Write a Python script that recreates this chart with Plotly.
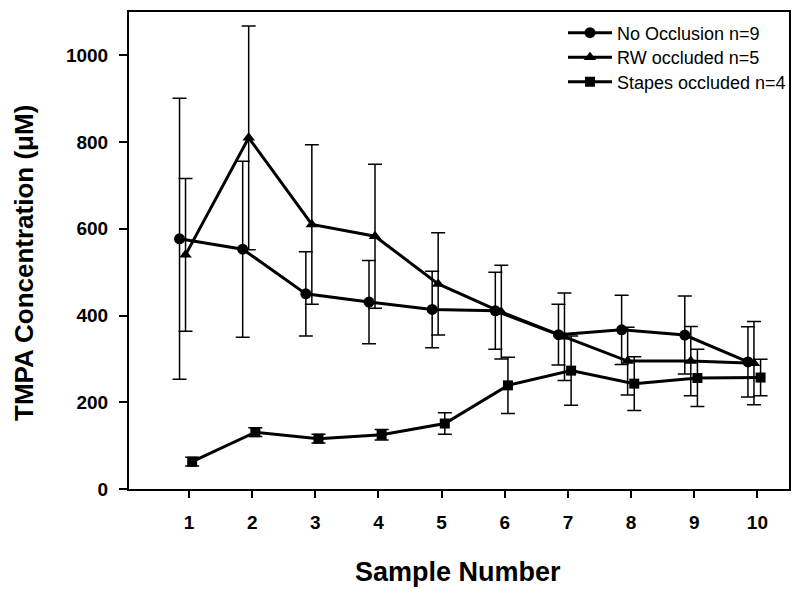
import plotly.graph_objects as go

samples = [1, 2, 3, 4, 5, 6, 7, 8, 9, 10]

no_occ_mean = [577, 553, 450, 431, 414, 411, 356, 367, 355, 293]
no_occ_err = [324, 203, 97, 96, 88, 89, 70, 80, 90, 81]

rw_mean = [540, 810, 610, 583, 473, 408, 351, 295, 295, 290]
rw_err = [176, 258, 184, 166, 118, 108, 101, 78, 80, 96]

stapes_mean = [63, 131, 116, 125, 151, 239, 273, 243, 256, 257]
stapes_err = [10, 10, 10, 12, 25, 65, 80, 62, 66, 42]

series_names = ["No Occlusion n=9", "RW occluded n=5", "Stapes occluded n=4"]
x_ticks = [1, 2, 3, 4, 5, 6, 7, 8, 9, 10]
y_ticks = [0, 200, 400, 600, 800, 1000]

# horizontal dodge per series (SigmaPlot-style offset)
offsets = [-0.15, -0.055, 0.05]
symbols = ["circle", "triangle-up", "square"]
msizes = [11, 11, 10]
legend_ids = ["legend", "legend2", "legend3"]
legend_rows = [33, 57.5, 82]

FONT = "Liberation Sans, Arial, Helvetica, sans-serif"

fig = go.Figure()
for name, mean, err, off, sym, ms, lid in zip(
        series_names,
        [no_occ_mean, rw_mean, stapes_mean],
        [no_occ_err, rw_err, stapes_err],
        offsets, symbols, msizes, legend_ids):
    fig.add_trace(go.Scatter(
        x=[s + off for s in samples], y=mean, name=name,
        mode="lines+markers", legend=lid,
        line=dict(color="black", width=3),
        marker=dict(symbol=sym, size=ms, color="black"),
        error_y=dict(type="data", array=err, visible=True,
                     color="black", thickness=1.5, width=7),
    ))

L, R, T, B = 129, 11, 12, 109
W, H = 800, 598
pw, ph = W - L - R, H - T - B

def px(xp):
    return (xp - L) / pw

def py(yp):
    return (H - B - yp) / ph

legend_style = dict(xanchor="left", yanchor="middle",
                    font=dict(family=FONT, size=18, color="black"),
                    bgcolor="rgba(0,0,0,0)", itemwidth=44)

layout_legends = {}
for lid, row in zip(legend_ids, legend_rows):
    layout_legends[lid] = dict(x=px(563), y=py(row), **legend_style)

fig.update_layout(
    width=W, height=H,
    margin=dict(l=L, r=R, t=T, b=B, autoexpand=False),
    paper_bgcolor="white", plot_bgcolor="white",
    showlegend=True,
    xaxis=dict(range=[0.05, 10.5], tickmode="array", tickvals=x_ticks,
               ticktext=[str(v) for v in x_ticks],
               showline=True, linecolor="black", linewidth=2, mirror=True,
               ticks="outside", ticklen=7, tickwidth=2, tickcolor="black",
               showgrid=False, zeroline=False, ticklabelstandoff=8,
               tickfont=dict(family=FONT, size=19, color="black", weight="bold")),
    yaxis=dict(range=[0, 1100], tickmode="array", tickvals=y_ticks,
               showline=True, linecolor="black", linewidth=2, mirror=True,
               ticks="outside", ticklen=8, tickwidth=2, tickcolor="black",
               showgrid=False, zeroline=False, ticklabelstandoff=7,
               tickfont=dict(family=FONT, size=19, color="black", weight="bold")),
    annotations=[
        dict(text="Sample Number", xref="paper", yref="paper",
             x=px(458), y=py(572), xanchor="center", yanchor="middle",
             showarrow=False,
             font=dict(family=FONT, size=27, color="black", weight="bold")),
        dict(text="TMPA Concentration (\u03bcM)", xref="paper", yref="paper",
             x=px(24), y=py(263), xanchor="center", yanchor="middle",
             textangle=-90, showarrow=False,
             font=dict(family=FONT, size=26, color="black", weight="bold")),
    ],
    **layout_legends,
)

fig.write_html("out.html",
               config={"displayModeBar": False},
               post_script="document.body.style.margin='0';document.body.style.padding='0';")
